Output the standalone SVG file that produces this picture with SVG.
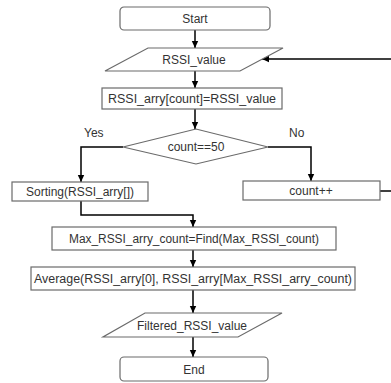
<svg xmlns="http://www.w3.org/2000/svg" width="391" height="383" viewBox="0 0 391 383">
<defs>
<marker id="ah" markerWidth="8" markerHeight="8" refX="7" refY="4" orient="auto" markerUnits="userSpaceOnUse">
<path d="M0,0.8 L7,4 L0,7.2 Z" fill="#000"/>
</marker>
<style>
.box{fill:#fff;stroke:#6a6a6a;stroke-width:1.2}
.t{font-family:"Liberation Sans",Arial,sans-serif;font-size:12px;fill:#333;text-anchor:middle}
.lbl{font-family:"Liberation Sans",Arial,sans-serif;font-size:12px;fill:#333}
.c{fill:none;stroke:#000;stroke-width:1.5}
.ca{fill:none;stroke:#000;stroke-width:1.5;marker-end:url(#ah)}
</style>
</defs>
<rect width="391" height="383" fill="#fff"/>
<g id="connectors">
<line class="ca" x1="195" y1="30" x2="195" y2="48"/>
<line class="ca" x1="195" y1="71" x2="195" y2="88"/>
<line class="ca" x1="195" y1="109" x2="195" y2="129"/>
<polyline class="ca" points="123,147 81,147 81,182"/>
<polyline class="ca" points="268,147 311,147 311,181"/>
<line class="c" x1="380" y1="191" x2="391" y2="191"/>
<line class="ca" x1="391" y1="59" x2="262" y2="59"/>
<polyline class="ca" points="81,201 81,215 193,215 193,227"/>
<line class="ca" x1="193" y1="250" x2="193" y2="267"/>
<line class="ca" x1="193" y1="290" x2="193" y2="313"/>
<line class="ca" x1="193" y1="337" x2="193" y2="357"/>
<text class="lbl" x="84" y="137">Yes</text>
<text class="lbl" x="289" y="137">No</text>
</g>
<g id="start">
<rect class="box" x="120" y="7" width="150" height="23" rx="4"/>
<text class="t" x="195" y="23">Start</text>
</g>
<g id="rssi_value">
<polygon class="box" points="148,48 283,48 240,71 105,71"/>
<text class="t" x="194" y="64">RSSI_value</text>
</g>
<g id="assign">
<rect class="box" x="102" y="88" width="180" height="21"/>
<text class="t" x="192" y="103" textLength="168" lengthAdjust="spacingAndGlyphs">RSSI_arry[count]=RSSI_value</text>
</g>
<g id="decision">
<polygon class="box" points="123,147 196,129 268,147 196,164"/>
<text class="t" x="196" y="151">count==50</text>
</g>
<g id="sorting">
<rect class="box" x="12" y="182" width="136" height="19"/>
<text class="t" x="80" y="196">Sorting(RSSI_arry[])</text>
</g>
<g id="increment">
<rect class="box" x="243" y="181" width="137" height="19"/>
<text class="t" x="311" y="195">count++</text>
</g>
<g id="find_max">
<rect class="box" x="52" y="227" width="284" height="23"/>
<text class="t" x="194" y="243" textLength="250" lengthAdjust="spacingAndGlyphs">Max_RSSI_arry_count=Find(Max_RSSI_count)</text>
</g>
<g id="average">
<rect class="box" x="31" y="267" width="324" height="23"/>
<text class="t" x="193" y="283" textLength="318" lengthAdjust="spacingAndGlyphs">Average(RSSI_arry[0], RSSI_arry[Max_RSSI_arry_count)</text>
</g>
<g id="filtered">
<polygon class="box" points="145,313 282,313 238,337 103,337"/>
<text class="t" x="192" y="330">Filtered_RSSI_value</text>
</g>
<g id="end">
<rect class="box" x="120" y="357" width="148" height="24" rx="4"/>
<text class="t" x="194" y="374">End</text>
</g>
</svg>
